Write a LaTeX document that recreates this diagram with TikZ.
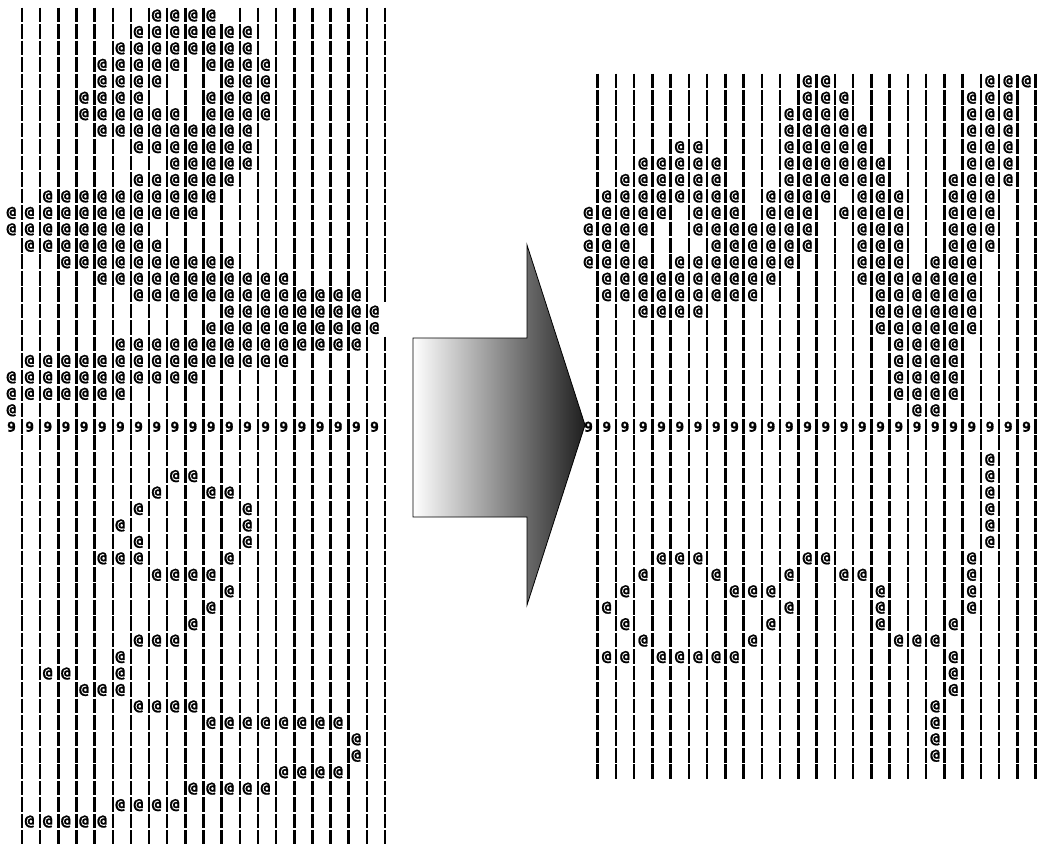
\documentclass[tikz,border=0pt]{standalone}
\usepackage{fontspec}
\newfontfamily\glyphfont[FakeStretch=1.1, BoldFeatures={FakeBold=1.2}]{DejaVu Sans Mono}
% glyph rows of the two panels
\newcommand\Lrow[2]{\foreach \k in {#2} {\node[glyph] (L#1-\k) at ({11.5+18.15*\k},{15.5+16.45*#1}) {@};}}
\newcommand\Rrow[2]{\foreach \k in {#2} {\node[glyph] (R#1-\k) at ({588.5+18.25*\k},{15.5+16.45*#1}) {@};}}
\begin{document}
\begin{tikzpicture}[x=1pt,y=-1pt]
\tikzset{
  barline/.style={line width=2.5pt, black},
  glyph/.style={inner sep=0pt, font=\glyphfont\bfseries\fontsize{14.5}{14.5}\selectfont},
  nine/.style={inner sep=0pt, font=\glyphfont\bfseries\fontsize{13.5}{13.5}\selectfont},
  arrowbody/.style={draw=black, line width=0.8pt, left color=white, middle color=black!40, right color=black!88},
}
\useasboundingbox (0,0) rectangle (1039,844);
\fill[white] (0,0) rectangle (1039,844);
% ---------------- left panel bars
\foreach \g in {0,...,50} {
  \foreach \k in {0,...,20} {
    \pgfmathtruncatemacro\skipit{((\g==0)&&(\k==11)) || ((\g==18)&&(\k==20)) || ((\g==19)&&(\k==20))}
    \ifnum\skipit=0
      \draw[barline] ({22+18.15*\k},{15+16.45*\g-7.3}) -- ({22+18.15*\k},{min(15+16.45*\g+7.3,844)});
    \fi
  }
}
% ---------------- right panel bars
\foreach \g in {4,...,46} {
  \foreach \k in {0,...,24} {
    \draw[barline] ({597.5+18.25*\k},{15+16.45*\g-7.3}) -- ({597.5+18.25*\k},{15+16.45*\g+7.3});
  }
}
% ---------------- left panel glyphs
\Lrow{0}{8,9,10,11}
\Lrow{1}{7,8,9,10,11,12,13}
\Lrow{2}{6,7,8,9,10,11,12,13}
\Lrow{3}{5,6,7,8,9,11,12,13,14}
\Lrow{4}{5,6,7,8,12,13,14}
\Lrow{5}{4,5,6,7,11,12,13,14}
\Lrow{6}{4,5,6,7,8,9,11,12,13,14}
\Lrow{7}{5,6,7,8,9,10,11,12,13}
\Lrow{8}{7,8,9,10,11,12,13}
\Lrow{9}{9,10,11,12,13}
\Lrow{10}{7,8,9,10,11,12}
\Lrow{11}{2,3,4,5,6,7,8,9,10,11}
\Lrow{12}{0,1,2,3,4,5,6,7,8,9,10}
\Lrow{13}{0,1,2,3,4,5,6,7}
\Lrow{14}{1,2,3,4,5,6,7,8}
\Lrow{15}{3,4,5,6,7,8,9,10,11,12}
\Lrow{16}{5,6,7,8,9,10,11,12,13,14,15}
\Lrow{17}{7,8,9,10,11,12,13,14,15,16,17,18,19}
\Lrow{18}{12,13,14,15,16,17,18,19,20}
\Lrow{19}{11,12,13,14,15,16,17,18,19,20}
\Lrow{20}{6,7,8,9,10,11,12,13,14,15,16,17,18,19}
\Lrow{21}{1,2,3,4,5,6,7,8,9,10,11,12,13,14,15}
\Lrow{22}{0,1,2,3,4,5,6,7,8,9,10}
\Lrow{23}{0,1,2,3,4,5,6}
\Lrow{24}{0}
\foreach \k in {0,...,20} {\node[nine] (L25-\k) at ({11.5+18.15*\k},{15.5+16.45*25}) {9};}
\Lrow{28}{9,10}
\Lrow{29}{8,11,12}
\Lrow{30}{7,13}
\Lrow{31}{6,13}
\Lrow{32}{7,13}
\Lrow{33}{5,6,7,12}
\Lrow{34}{8,9,10,11}
\Lrow{35}{12}
\Lrow{36}{11}
\Lrow{37}{10}
\Lrow{38}{7,8,9}
\Lrow{39}{6}
\Lrow{40}{2,3,6}
\Lrow{41}{4,5,6}
\Lrow{42}{7,8,9,10}
\Lrow{43}{11,12,13,14,15,16,17,18}
\Lrow{44}{19}
\Lrow{45}{19}
\Lrow{46}{15,16,17,18}
\Lrow{47}{10,11,12,13,14}
\Lrow{48}{6,7,8,9}
\Lrow{49}{1,2,3,4,5}
% ---------------- right panel glyphs
\Rrow{4}{12,13,22,23,24}
\Rrow{5}{12,13,14,21,22,23}
\Rrow{6}{11,12,13,14,21,22,23}
\Rrow{7}{11,12,13,14,15,21,22,23}
\Rrow{8}{5,6,11,12,13,14,15,21,22,23}
\Rrow{9}{3,4,5,6,7,11,12,13,14,15,16,21,22,23}
\Rrow{10}{2,3,4,5,6,7,11,12,13,14,15,16,20,21,22,23}
\Rrow{11}{1,2,3,4,5,6,7,8,10,11,12,13,15,16,17,20,21,22}
\Rrow{12}{0,1,2,3,4,6,7,8,10,11,12,14,15,16,17,20,21,22}
\Rrow{13}{0,1,2,3,6,7,8,9,10,11,12,15,16,17,20,21,22}
\Rrow{14}{0,1,2,7,8,9,10,11,12,15,16,17,20,21,22}
\Rrow{15}{0,1,2,3,5,6,7,8,9,10,11,15,16,17,19,20,21}
\Rrow{16}{1,2,3,4,5,6,7,8,9,10,15,16,17,18,19,20,21}
\Rrow{17}{1,2,3,4,5,6,7,8,9,16,17,18,19,20,21}
\Rrow{18}{3,4,5,6,16,17,18,19,20,21}
\Rrow{19}{16,17,18,19,20,21}
\Rrow{20}{17,18,19,20}
\Rrow{21}{17,18,19,20}
\Rrow{22}{17,18,19,20}
\Rrow{23}{17,18,19,20}
\Rrow{24}{18,19}
\foreach \k in {0,...,24} {\node[nine] (R25-\k) at ({588.5+18.25*\k},{15.5+16.45*25}) {9};}
\Rrow{27}{22}
\Rrow{28}{22}
\Rrow{29}{22}
\Rrow{30}{22}
\Rrow{31}{22}
\Rrow{32}{22}
\Rrow{33}{4,5,6,12,13,21}
\Rrow{34}{3,7,11,14,15,21}
\Rrow{35}{2,8,9,10,16,21}
\Rrow{36}{1,11,16,21}
\Rrow{37}{2,10,16,20}
\Rrow{38}{3,9,17,18,19}
\Rrow{39}{1,2,4,5,6,7,8,20}
\Rrow{40}{20}
\Rrow{41}{20}
\Rrow{42}{19}
\Rrow{43}{19}
\Rrow{44}{19}
\Rrow{45}{19}
% ---------------- arrow
\shade[arrowbody] (413,338) -- (527,338) -- (527,245) -- (585,425) -- (527,605) -- (527,517) -- (413,517) -- cycle;
\end{tikzpicture}
\end{document}
